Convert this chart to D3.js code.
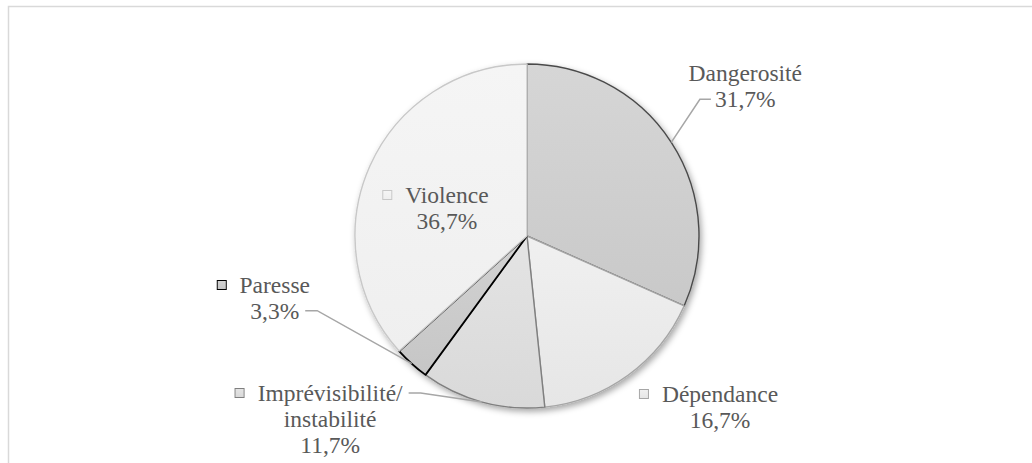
<!DOCTYPE html>
<html>
<head>
<meta charset="utf-8">
<script src="https://cdn.jsdelivr.net/npm/d3@7"></script>
<style>
  body { margin: 0; background: #fff; }
  #wrap { position: relative; width: 1032px; height: 463px; overflow: hidden; }
  #wrap svg { position: absolute; left: 0; top: 0; display: block; }
  #labels { position: absolute; left: 0; top: 0; width: 1032px; height: 463px; }
  .lbl { position: absolute; white-space: nowrap; transform: translateX(-50%);
         font-family: Liberation Serif; color: #595959; }
  .key { position: absolute; box-sizing: border-box; }
</style>
</head>
<body>
<div id="wrap">
  <svg id="chart" width="1032" height="463"></svg>
  <div id="labels"></div>
</div>
<script>
// Share of each category (%), clockwise from 12 o'clock
const categories = ["Dangerosité", "Dépendance", "Imprévisibilité/ instabilité", "Paresse", "Violence"];
const values = [31.7, 16.7, 11.7, 3.3, 36.7];
const valueLabels = ["31,7%", "16,7%", "11,7%", "3,3%", "36,7%"];
const labelLines = [["Dangerosité"], ["Dépendance"], ["Imprévisibilité/", "instabilité"], ["Paresse"], ["Violence"]];

// Styling per slice
const fillTop    = ["#d6d6d6", "#f0f0f0", "#e4e4e4", "#d2d2d2", "#f5f5f5"];
const fillBottom = ["#c9c9c9", "#e6e6e6", "#d9d9d9", "#c6c6c6", "#efefef"];
const strokes    = ["#4a4a4a", "#a6a6a6", "#7f7f7f", "#000000", "#c8c8c8"];
const showKey    = [false, true, true, true, true];

// Label placement relative to the slice's outer mid-point: text centre x, first baseline y
const labelOffset = [[74, -61], [92, 27], [-152, -1], [-137, -71], [77, 37]];
const withLeader  = [true, false, true, true, false];

const width = 1032, height = 463;
const cx = 527, cy = 236, radius = 172;
const fontSize = 23.5, lineGap = 26;
// distance from a line box's top to its baseline (Liberation Serif ascent 0.891em, descent 0.216em)
const baselineShift = 0.891 * fontSize + (lineGap - 1.107 * fontSize) / 2;

const svg = d3.select("#chart");
const defs = svg.append("defs");
const labelLayer = d3.select("#labels");

// outer frame
svg.append("rect")
  .attr("x", 8.5).attr("y", 6.5)
  .attr("width", width + 20).attr("height", height + 20)
  .attr("fill", "none").attr("stroke", "#d9d9d9").attr("stroke-width", 1.5);

// soft drop shadow under the pie
const shadow = defs.append("filter").attr("id", "pieShadow")
  .attr("x", "-10%").attr("y", "-10%").attr("width", "125%").attr("height", "125%");
shadow.append("feDropShadow")
  .attr("dx", 2).attr("dy", 3).attr("stdDeviation", 3)
  .attr("flood-color", "#000").attr("flood-opacity", 0.35);

categories.forEach((c, i) => {
  const g = defs.append("linearGradient").attr("id", "grad" + i)
    .attr("x1", 0).attr("y1", 0).attr("x2", 0).attr("y2", 1);
  g.append("stop").attr("offset", "0%").attr("stop-color", fillTop[i]);
  g.append("stop").attr("offset", "100%").attr("stop-color", fillBottom[i]);
});

const pie = d3.pie().sort(null).value(d => d).startAngle(0).endAngle(2 * Math.PI);
const arcs = pie(values);
const arc = d3.arc().innerRadius(0).outerRadius(radius);

svg.append("g").attr("transform", `translate(${cx},${cy})`)
  .attr("filter", "url(#pieShadow)")
  .selectAll("path").data(arcs).join("path")
  .attr("d", arc)
  .attr("fill", (d, i) => `url(#grad${i})`)
  .attr("stroke", (d, i) => strokes[i])
  .attr("stroke-width", (d, i) => i === 3 ? 1.8 : 1.4)
  .attr("stroke-linejoin", "round");

// data labels: lines centred; legend key hangs left of the first line
const leaderG = svg.append("g");
arcs.forEach((d, i) => {
  const mid = (d.startAngle + d.endAngle) / 2;
  const px = cx + radius * Math.sin(mid), py = cy - radius * Math.cos(mid);
  const tx = px + labelOffset[i][0], ty = py + labelOffset[i][1];
  const lines = labelLines[i].concat([valueLabels[i]]);

  const nodes = lines.map((ln, k) => labelLayer.append("div")
    .attr("class", "lbl")
    .style("left", tx + "px")
    .style("top", (ty + k * lineGap - baselineShift) + "px")
    .style("font-size", fontSize + "px")
    .style("line-height", lineGap + "px")
    .text(ln));

  if (showKey[i]) {
    const ks = 10;
    nodes[0].append("span")
      .attr("class", "key")
      .style("left", -(13 + ks) + "px")
      .style("top", (baselineShift - 3 - ks) + "px")
      .style("width", ks + "px").style("height", ks + "px")
      .style("background", `linear-gradient(${fillTop[i]}, ${fillBottom[i]})`)
      .style("border", `${i === 3 ? 1.6 : 1.2}px solid ${strokes[i]}`);
  }

  if (withLeader[i]) {
    const lastIdx = lines.length - 1;
    const w = k => nodes[k].node().getBoundingClientRect().width;
    let sx, sy, elbow;
    if (px > cx) {
      // label to the right: attach at left of value line
      sx = tx - w(lastIdx) / 2 - 4; sy = ty + lastIdx * lineGap - 8;
      elbow = sx - 11;
    } else {
      // label to the left: attach at right of the line nearest the pie
      const k = i === 2 ? 0 : lastIdx;
      sx = tx + w(k) / 2 + 6; sy = ty + k * lineGap - 8;
      elbow = sx + 12;
    }
    leaderG.append("path")
      .attr("d", d3.line()([[sx, sy], [elbow, sy], [px, py]]))
      .attr("fill", "none").attr("stroke", "#a6a6a6").attr("stroke-width", 1.5);
  }
});
</script>
</body>
</html>
